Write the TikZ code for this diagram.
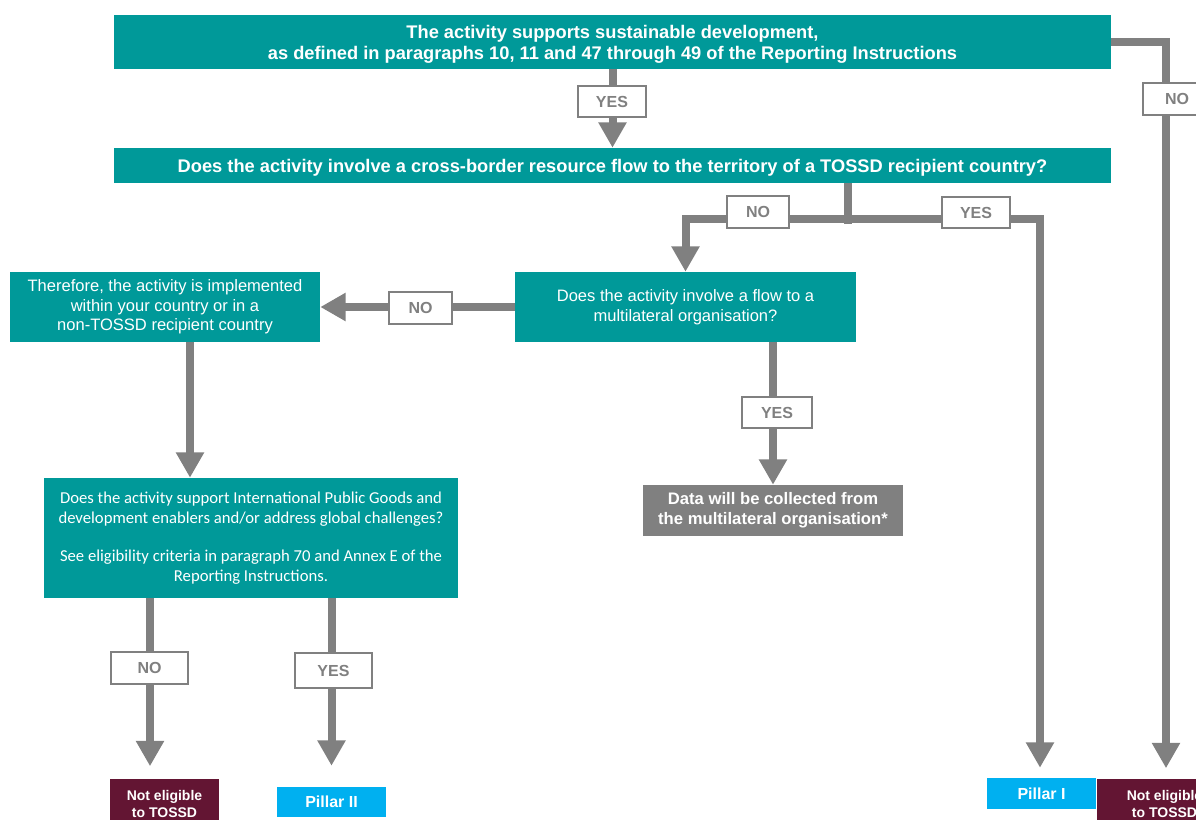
\documentclass[tikz,border=0pt]{standalone}
\usepackage{fontspec}
\setmainfont{Liberation Sans}
\newfontfamily\calibri{Carlito}
\usetikzlibrary{arrows.meta}
\usetikzlibrary{calc}
\definecolor{oecdteal}{RGB}{0,153,153}
\definecolor{flowgrey}{RGB}{128,128,128}
\definecolor{noteligible}{RGB}{99,21,51}
\definecolor{pillarblue}{RGB}{0,176,240}

\begin{document}
\begin{tikzpicture}[x=0.75pt,y=-0.75pt]
	\tikzstyle{question}=[fill=oecdteal, text=white, inner sep=0pt, align=center, font=\fontsize{12.4}{15}\selectfont]
	\tikzstyle{outcome}=[text=white, inner sep=0pt, align=center, font=\bfseries\fontsize{12}{15}\selectfont, minimum width=81.75pt]
	\tikzstyle{yesno}=[fill=white, draw=flowgrey, line width=1.5pt, text=flowgrey, inner sep=0pt, font=\bfseries\fontsize{12}{14}\selectfont, minimum width=51pt, minimum height=23.25pt]
	\tikzstyle{flowline}=[draw=flowgrey, line width=6pt]
	\tikzstyle{flow}=[flowline, -{Triangle[width=20pt,length=19pt]}]

	\useasboundingbox (0,0) rectangle (1196,820);

	% questions
	\node[question, font=\bfseries\fontsize{13.7}{15.75}\selectfont, minimum width=747.75pt, minimum height=40.5pt, text depth=0pt] (A) at (612.5,42)
		{The activity supports sustainable development,\\as defined in paragraphs 10, 11 and 47 through 49 of the Reporting Instructions};
	\node[question, font=\bfseries\fontsize{13.7}{15}\selectfont, minimum width=747.75pt, minimum height=26.25pt, text depth=0pt] (B) at (612.5,165.5)
		{Does the activity involve a cross-border resource flow to the territory of a TOSSD recipient country?};
	\node[question, minimum width=255.75pt, minimum height=52.5pt] (C) at (685.5,307)
		{Does the activity involve a flow to a\\multilateral organisation?};
	\node[question, font=\fontsize{12.4}{14.6}\selectfont, minimum width=232.5pt, minimum height=52.5pt] (D) at (165,307)
		{Therefore, the activity is implemented\\within your country or in a\\non-TOSSD recipient country};
	\node[question, font=\calibri\fontsize{12.5}{14.5}\selectfont, minimum width=310.5pt, minimum height=90pt] (E) at (251,538)
		{Does the activity support International Public Goods and\\development enablers and/or address global challenges?\\[14.5pt]See eligibility criteria in paragraph 70 and Annex E of the\\Reporting Instructions.};

	% outcomes
	\node[outcome, fill=flowgrey, font=\bfseries\fontsize{12.5}{15}\selectfont, minimum width=195pt, minimum height=38.25pt] (F) at (773,510.5)
		{Data will be collected from\\the multilateral organisation*};
	\node[outcome, fill=noteligible, font=\bfseries\fontsize{10.5}{12.75}\selectfont, minimum height=37.5pt] (N1) at (164.5,803.5) {Not eligible\\to TOSSD};
	\node[outcome, fill=noteligible, font=\bfseries\fontsize{10.5}{12.75}\selectfont, minimum width=101.25pt, minimum height=37.5pt] (N2) at (1164.5,803.5) {Not eligible\\to TOSSD};
	\node[outcome, fill=pillarblue, minimum height=22.5pt] (P2) at (331.5,802) {Pillar II};
	\node[outcome, fill=pillarblue, minimum height=23.25pt] (P1) at (1041.5,793.5) {Pillar I};

	% connectors
	\coordinate (split) at (848,219);
	\draw[flow] (A.south) -- (B.north);
	\draw[flow, shorten >=7.5pt] (A.east) -| ($(N2.north)+(1.5,0)$);
	\draw[flowline] (split |- B.south) -- ($(split)+(0,5)$);
	\draw[flow] (split) -| (C.north);
	\draw[flow, shorten >=7.5pt] (split) -| ($(P1.north)+(-1.5,0)$);
	\draw[flow] (C.west) -- (D.east);
	\draw[flow] ($(D.south)+(25,0)$) -- ($(D.south |- E.north)+(25,0)$);
	\draw[flow] (F.north |- C.south) -- (F.north);
	\draw[flow, shorten >=9pt] ($(N1.north |- E.south)+(-14.5,0)$) -- ($(N1.north)+(-14.5,0)$);
	\draw[flow, shorten >=15.75pt] (P2.north |- E.south) -- (P2.north);

	% yes / no labels
	\node[yesno] (yes1) at (612,101.5) {YES};
	\node[yesno, minimum height=24pt] (no1) at (1177,99) {NO};
	\node[yesno, minimum width=46.5pt, minimum height=24pt] (no2) at (758,212) {NO};
	\node[yesno] (yes2) at (976,212.5) {YES};
	\node[yesno, minimum width=47.25pt, minimum height=24pt] (no3) at (420.5,308) {NO};
	\node[yesno, minimum width=52.5pt] (yes3) at (777,412.5) {YES};
	\node[yesno, minimum width=57.75pt, minimum height=24pt] (no4) at (149.5,668) {NO};
	\node[yesno, minimum width=57.75pt, minimum height=26.25pt] (yes4) at (333.5,670.5) {YES};
\end{tikzpicture}
\end{document}
